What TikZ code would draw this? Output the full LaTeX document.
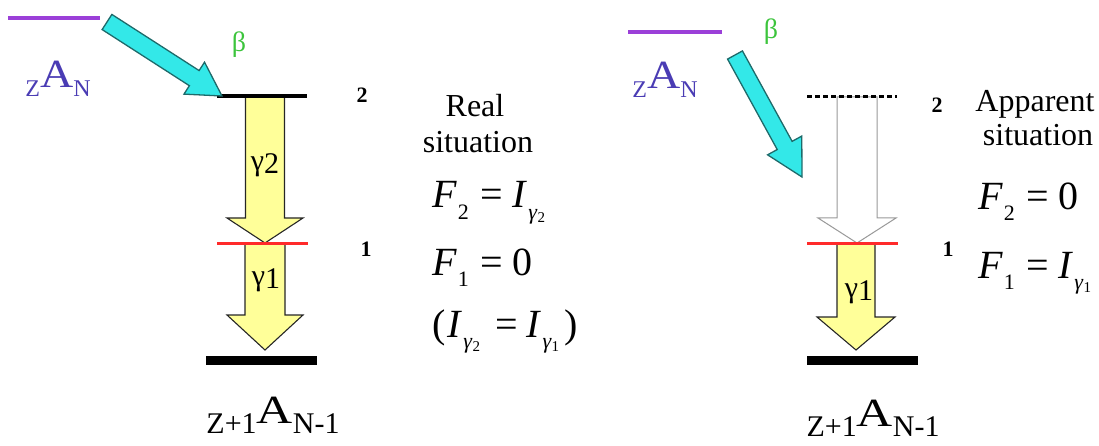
\documentclass[tikz,border=0pt]{standalone}
\usepackage{fontspec}
\usepackage{graphicx}
\setmainfont{LiberationSerif}[Extension=.ttf,UprightFont=*-Regular,BoldFont=*-Bold,ItalicFont=*-Italic,BoldItalicFont=*-BoldItalic]
\usetikzlibrary{calc}
\definecolor{parent}{HTML}{9B3FD8}
\definecolor{nuclide}{HTML}{4A3CB4}
\definecolor{betagreen}{HTML}{3CC43C}
\definecolor{betafill}{HTML}{33E8E8}
\definecolor{betadraw}{HTML}{1E6A6A}
\definecolor{gammafill}{HTML}{FFFF99}
\definecolor{levelred}{HTML}{FF2A2A}

% big A with small lowered indices: left, right, A scale, index size, drop
\newcommand{\nucl}[5]{{\raisebox{-#5}{\fontsize{#4}{#4}\selectfont #1}\scalebox{#3}[1]{\fontsize{40}{40}\selectfont A}\raisebox{-#5}{\fontsize{#4}{#4}\selectfont #2}}}
\newcommand{\gsub}[1]{γ\raisebox{-3pt}{#1}}
\newcommand{\iv}[1]{\textit{#1}}
\newcommand{\lsub}[1]{\hspace{1pt}\raisebox{-11pt}{\fontsize{22}{22}\selectfont #1}}
\newcommand{\gam}[1]{\textit{γ}\raisebox{-3pt}{\fontsize{15}{15}\selectfont #1}}
\newcommand{\eqs}{\hspace{12pt}=\hspace{9pt}}
% style, from, to, shaft half width, head half width, head length
\newcommand{\blockarrow}[6]{%
  \coordinate (hb) at ($(#3)!#6!(#2)$);
  \draw[#1] ($(#2)!#4!90:(#3)$) -- ($(hb)!#4!90:(#3)$) -- ($(hb)!#5!90:(#3)$) -- (#3)
    -- ($(hb)!#5!-90:(#3)$) -- ($(hb)!#4!-90:(#3)$) -- ($(#2)!#4!-90:(#3)$) -- cycle;
}

\begin{document}
\begin{tikzpicture}[x=1pt,y=-1pt,
  ground/.style={line width=9pt},
  upper/.style={line width=4pt},
  mid/.style={line width=3pt,levelred},
  parentlvl/.style={line width=3.5pt,parent},
  betaarrow/.style={fill=betafill,draw=betadraw,line width=1.3pt,line join=miter},
  gammaarrow/.style={fill=gammafill,draw=black!85,line width=1.1pt},
  ghostarrow/.style={fill=white,draw=black!40,line width=1pt},
  lbl/.style={inner sep=0pt,font=\fontsize{22}{22}\selectfont\bfseries},
  glbl/.style={inner sep=0pt,font=\fontsize{30}{30}\selectfont},
  betalbl/.style={inner sep=0pt,text=betagreen,font=\fontsize{28}{28}\selectfont},
  txt/.style={inner sep=0pt,anchor=base,font=\fontsize{32}{32}\selectfont},
  eq/.style={inner sep=0pt,anchor=base west,font=\fontsize{40}{40}\selectfont},
  nuc/.style={inner sep=0pt,anchor=base}
]
\useasboundingbox (0,0) rectangle (1099,446);

% real situation
\coordinate (pLa) at (8,18);
\coordinate (pLb) at (100,18);
\coordinate (l2La) at (217,96);
\coordinate (l2Lb) at (307,96);
\coordinate (l1La) at (217,243);
\coordinate (l1Lb) at (308,243);
\coordinate (l0La) at (206,360);
\coordinate (l0Lb) at (317,360);
\coordinate (bsL) at (107,22);
\coordinate (beL) at (222,96);
\coordinate (g2sL) at (265,96);
\coordinate (g2eL) at (265,243);
\coordinate (g1sL) at (265,243);
\coordinate (g1eL) at (265,350);

\draw[parentlvl] (pLa) -- (pLb);
\blockarrow{gammaarrow}{g2sL}{g2eL}{19.5pt}{38pt}{25pt}
\blockarrow{gammaarrow}{g1sL}{g1eL}{20pt}{38pt}{35pt}
\draw[upper] (l2La) -- (l2Lb);
\draw[mid] (l1La) -- (l1Lb);
\draw[ground] (l0La) -- (l0Lb);
\blockarrow{betaarrow}{bsL}{beL}{9pt}{19pt}{33pt}

\node[nuc,text=nuclide] (parL) at (58,88) {\nucl{Z}{N}{1.15}{24}{9pt}};
\node[betalbl] (betaL) at (239,45) {β};
\node[lbl] (n2L) at (362,95) {2};
\node[lbl] (n1L) at (366,249) {1};
\node[glbl] (g2L) at (265,165) {\gsub{2}};
\node[glbl] (g1L) at (266,280) {\gsub{1}};
\node[nuc] (dauL) at (273,423) {\nucl{Z+1}{N-1}{1.25}{30}{10pt}};
\node[txt] (realL) at (475,117) {Real};
\node[txt] (sitL) at (478,153) {situation};
\node[eq] (f2L) at (432,208) {\iv{F}\lsub{2}\eqs\iv{I}\lsub{\gam{2}}};
\node[eq] (f1L) at (432,275) {\iv{F}\lsub{1}\eqs 0};
\node[eq] (sumL) at (432,337) {(\hspace{2pt}\iv{I}\lsub{\gam{2}}\hspace{3pt}\eqs\iv{I}\lsub{\gam{1}}\hspace{5pt})};

% apparent situation
\coordinate (pRa) at (628,32);
\coordinate (pRb) at (722,32);
\coordinate (l2Ra) at (807,97);
\coordinate (l2Rb) at (897,97);
\coordinate (l1Ra) at (807,243);
\coordinate (l1Rb) at (898,243);
\coordinate (l0Ra) at (807,360);
\coordinate (l0Rb) at (918,360);
\coordinate (bsR) at (735,55);
\coordinate (beR) at (802,177);
\coordinate (g2sR) at (857,97);
\coordinate (g2eR) at (857,243);
\coordinate (g1sR) at (856,243);
\coordinate (g1eR) at (856,350);

\draw[parentlvl] (pRa) -- (pRb);
\blockarrow{ghostarrow}{g2sR}{g2eR}{20pt}{39pt}{25pt}
\blockarrow{gammaarrow}{g1sR}{g1eR}{19pt}{39pt}{33pt}
\draw[line width=3pt,dash pattern=on 5pt off 3pt] (l2Ra) -- (l2Rb);
\draw[mid] (l1Ra) -- (l1Rb);
\draw[ground] (l0Ra) -- (l0Rb);
\blockarrow{betaarrow}{bsR}{beR}{8.5pt}{19.5pt}{36pt}

\node[nuc,text=nuclide] (parR) at (665,89) {\nucl{Z}{N}{1.15}{24}{9pt}};
\node[betalbl] (betaR) at (771,32) {β};
\node[lbl] (n2R) at (937,105) {2};
\node[lbl] (n1R) at (948,249) {1};
\node[glbl] (g1R) at (859,292) {\gsub{1}};
\node[nuc] (dauR) at (873,426) {\nucl{Z+1}{N-1}{1.25}{30}{10pt}};
\node[txt] (appR) at (1035,112) {Apparent};
\node[txt] (sitR) at (1038,146) {situation};
\node[eq] (f2R) at (978,210) {\iv{F}\lsub{2}\eqs 0};
\node[eq] (f1R) at (978,278) {\iv{F}\lsub{1}\eqs\iv{I}\lsub{\gam{1}}};
\end{tikzpicture}
\end{document}
